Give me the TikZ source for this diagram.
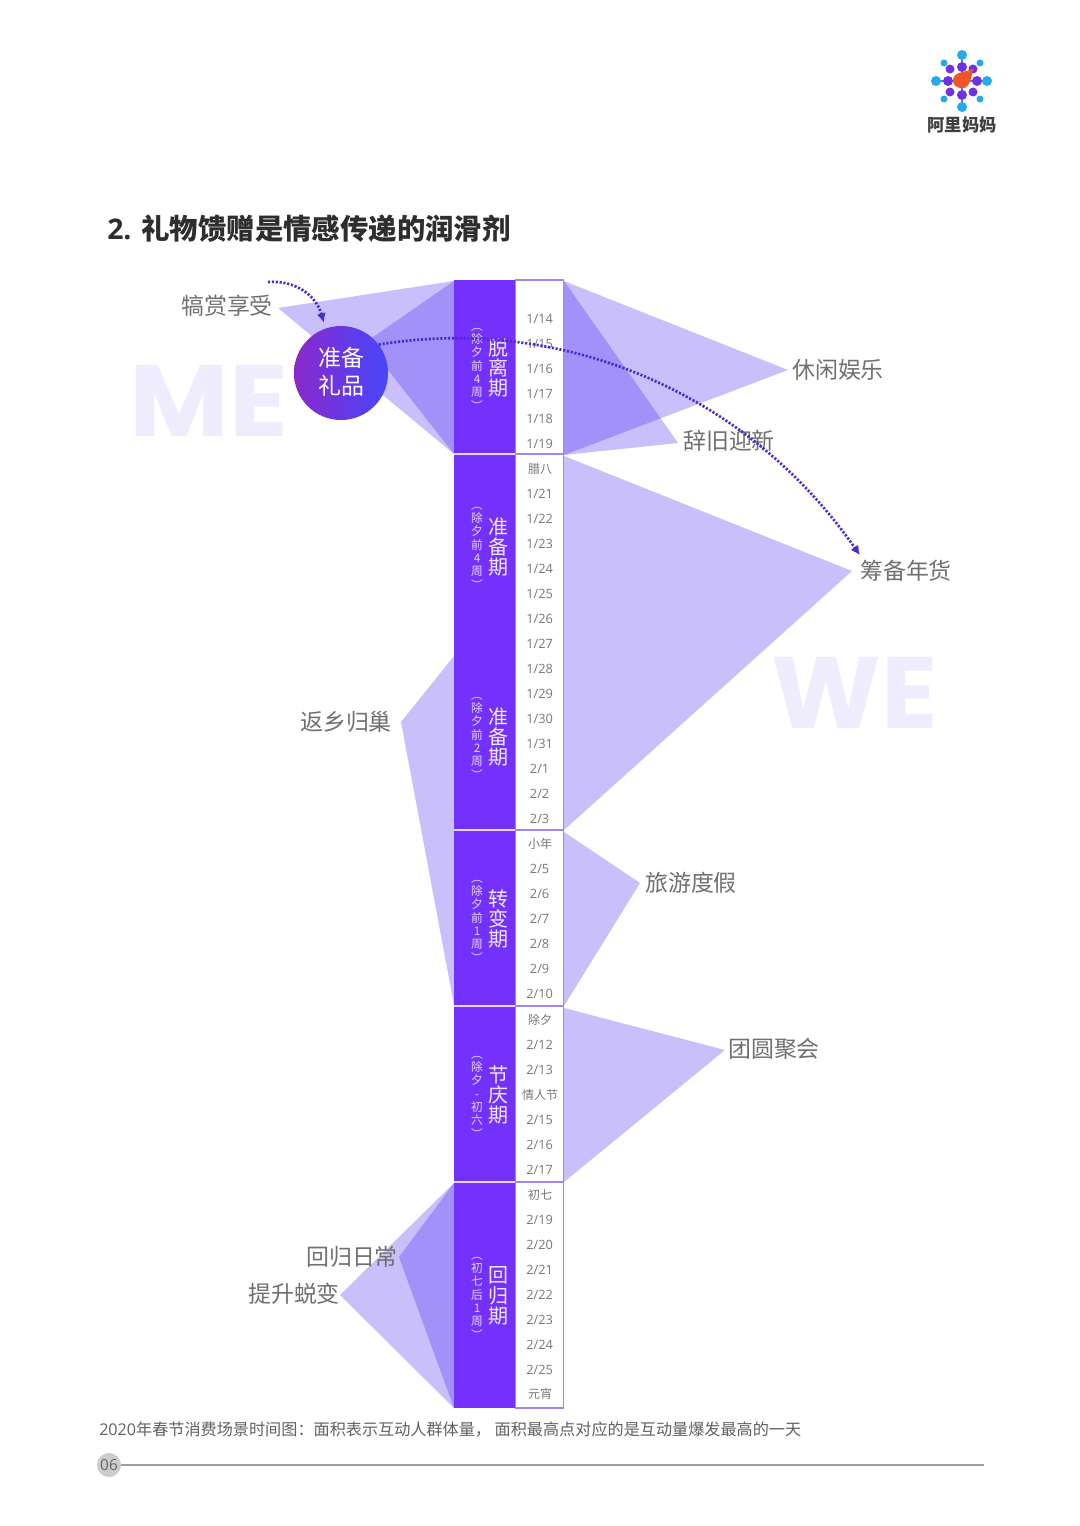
\documentclass[tikz,border=0pt]{standalone}
\usepackage{fontspec}
\setmainfont{Open Sans}
\newfontfamily\cjk{Noto Sans CJK SC}
\newfontfamily\heavy{Poppins}
\usetikzlibrary{arrows.meta,calc}
\definecolor{areac}{RGB}{62,27,241}
\definecolor{barc}{RGB}{116,49,251}
\definecolor{edgec}{RGB}{156,136,240}
\definecolor{txtc}{RGB}{112,112,112}
\definecolor{datec}{RGB}{120,120,120}
\definecolor{dotc}{RGB}{74,43,208}
\definecolor{ghost}{RGB}{239,237,253}
\definecolor{lblue}{RGB}{38,170,235}
\definecolor{lpurp}{RGB}{112,50,225}
\definecolor{gradl}{RGB}{138,40,205}
\definecolor{gradr}{RGB}{72,70,250}
\definecolor{blob}{RGB}{240,85,40}
\tikzset{
  scene/.style={font=\cjk\fontsize{17.2}{20}\selectfont,text=txtc,inner sep=0pt},
  datelab/.style={font=\fontsize{9.6}{11}\selectfont,text=datec,inner sep=0pt},
  dateh/.style={font=\cjk\fontsize{9}{11}\selectfont,text=datec,inner sep=0pt},
  phase/.style={font=\cjk\fontsize{15}{15.2}\selectfont,text=white!90!barc,align=center,inner sep=0pt},
  phasesub/.style={font=\cjk\fontsize{8.8}{10}\selectfont,text=white!80!barc,align=center,inner sep=0pt},
  dotarc/.style={draw=dotc,line width=2pt,dash pattern=on 1.6pt off 1.3pt},
  ghosttxt/.style={font=\heavy\bfseries\fontsize{76}{76}\selectfont,text=ghost,inner sep=0pt},
  sep/.style={draw=white!80!barc,line width=0.8pt},
  bl/.style={fill=lblue,draw=none},
  pu/.style={fill=lpurp,draw=none},
  area/.style={fill=areac,fill opacity=0.28,draw=none}
}
\begin{document}
\begin{tikzpicture}[x=0.75pt,y=-0.75pt]
\useasboundingbox (0,0) rectangle (1080,1526);
\fill[white] (0,0) rectangle (1080,1526);
% ghost words
\node[ghosttxt,xscale=1.07] (me) at (209,401) {ME};
\node[ghosttxt,xscale=1.03] (we) at (855,693) {WE};
% areas
\fill[area] (278,308) -- (454,281) -- (454,454) -- cycle;
\fill[area] (366,342) -- (454,281) -- (454,454) -- cycle;
\fill[area] (564,281) -- (788,370) -- (564,455) -- cycle;
\fill[area] (564,281) -- (678,443) -- (564,455) -- cycle;
\fill[area] (564,456) -- (852,571) -- (564,830) -- cycle;
\fill[area] (564,832) -- (640,883) -- (564,1006) -- cycle;
\fill[area] (564,1008) -- (725,1050) -- (564,1182) -- cycle;
\fill[area] (454,656) -- (401,722) -- (454,1005) -- cycle;
\fill[area] (454,1183) -- (399,1257) -- (454,1408) -- cycle;
\fill[area] (454,1183) -- (340,1295) -- (454,1408) -- cycle;
% column
\fill[barc] (454,280) rectangle (515,1408);
\fill[white] (516,280) rectangle (563,1408);
\draw[edgec,line width=1.1pt] (515.5,280) rectangle (563.5,1408);
\foreach \yy in {454,830,1006,1182}{
  \draw[sep] (454,\yy) -- (515,\yy);
  \draw[edgec,line width=0.8pt] (515,\yy) -- (564,\yy);
}
% dates
\foreach \aa/\bb/\yy in {1/14/319,1/15/344,1/16/369,1/17/394,1/18/419,1/19/444,1/21/494,1/22/519,1/23/544,1/24/569,1/25/594,1/26/619,1/27/644,1/28/669,1/29/694,1/30/719,1/31/744,2/1/769,2/2/794,2/3/819,2/5/869,2/6/894,2/7/919,2/8/944,2/9/969,2/10/994,2/12/1045,2/13/1070,2/15/1120,2/16/1145,2/17/1170,2/19/1220,2/20/1245,2/21/1270,2/22/1295,2/23/1320,2/24/1345,2/25/1370}{
  \node[datelab] (d\aa-\bb) at (539.6,\yy+0.2) {\aa/\bb};
}
\node[dateh] (h1) at (540,469) {腊八};
\node[dateh] (h2) at (540,844) {小年};
\node[dateh] (h3) at (540,1020) {除夕};
\node[dateh] (h4) at (540,1095) {情人节};
\node[dateh] (h5) at (540,1195) {初七};
\node[dateh] (h6) at (540,1394) {元宵};
% phases
\node[phase] (p1) at (498,368) {脱\\离\\期};
\node[phasesub] (s1) at (477,369) {︵\\除\\夕\\前\\4\\周\\︶};
\node[phase] (p2) at (498,547) {准\\备\\期};
\node[phasesub] (s2) at (477,548) {︵\\除\\夕\\前\\4\\周\\︶};
\node[phase] (p3) at (498,737) {准\\备\\期};
\node[phasesub] (s3) at (477,738) {︵\\除\\夕\\前\\2\\周\\︶};
\node[phase] (p4) at (498,919) {转\\变\\期};
\node[phasesub] (s4) at (477,921) {︵\\除\\夕\\前\\1\\周\\︶};
\node[phase] (p5) at (498,1095) {节\\庆\\期};
\node[phasesub] (s5) at (477,1097) {︵\\除\\夕\\-\\初\\六\\︶};
\node[phase] (p6) at (498,1296) {回\\归\\期};
\node[phasesub] (s6) at (477,1298) {︵\\初\\七\\后\\1\\周\\︶};
% circle
\node[circle,minimum size=94*0.75pt,inner sep=0pt,left color=gradl,right color=gradr,draw=none] (prep) at (341,373) {};
\node[font=\cjk\fontsize{17.2}{21}\selectfont,text=white,align=center,inner sep=0pt] (preptxt) at (341,372) {准备\\礼品};
% labels
\node[scene] (a1) at (227,306) {犒赏享受};
\node[scene] (a2) at (838,370) {休闲娱乐};
\node[scene] (a3) at (729,441) {辞旧迎新};
\node[scene] (a4) at (906,571) {筹备年货};
\node[scene] (a5) at (691,883) {旅游度假};
\node[scene] (a6) at (774,1049) {团圆聚会};
\node[scene] (a7) at (346,722) {返乡归巢};
\node[scene] (a8) at (352,1257) {回归日常};
\node[scene] (a9) at (294,1294) {提升蜕变};
% dotted connectors
\coordinate (start1) at (268,282);
\draw[dotarc,-{Latex[length=7pt,width=7pt]}] (start1) .. controls (295,280) and (316,295) .. ($(prep.110)+(-1,-6)$);
\draw[dotarc,-{Latex[length=7pt,width=7pt]}] (prep.37) .. controls (560,315) and (745,390) .. ($(a4.north west)+(0,-5)$);
% title
\node[anchor=west,inner sep=0pt,text=black!82,font=\fontsize{21.3}{24}\selectfont] (title) at (107,229) {\textbf{2.} {\cjk\bfseries 礼物馈赠是情感传递的润滑剂}};
% caption
\node[anchor=west,inner sep=0pt,text=black!62,font=\fontsize{12.1}{14}\selectfont] (cap) at (99,1430) {2020{\cjk 年春节消费场景时间图：面积表示互动人群体量， 面积最高点对应的是互动量爆发最高的一天}};
% footer
\node[circle,fill=black!20,minimum size=24*0.75pt,inner sep=0pt,text=black!60,font=\fontsize{11.5}{13}\selectfont] (pg) at (109,1465) {06};
\coordinate (fend) at (984,1465);
\draw[black!38,line width=0.9pt] (pg) -- (fend);
% logo
\draw[lblue!60!lpurp,line width=1.5pt] (936,81) -- (987,81) (962,55) -- (962,107);
\foreach \pt/\r in {{962,55}/5,{936,81}/5,{987,81}/5,{962,107}/5,{944,63}/3.5,{980,63}/3.5,{944,99}/3.5,{980,99}/3.5}{
  \fill[bl] (\pt) circle[radius=\r];
}
\foreach \pt/\r in {{962,67}/5,{948,81}/5,{977,81}/5,{962,95}/5,{950,69}/4.5,{973,69}/4.5,{950,92}/4.5,{973,92}/4.5}{
  \fill[pu] (\pt) circle[radius=\r];
}
\fill[blob] (953,80) .. controls (954,72) and (962,73) .. (973,69) .. controls (971,80) and (969,90) .. (960,88) .. controls (955,87) and (953,84) .. (953,80) -- cycle;
\node[inner sep=0pt,text=black!75,font=\cjk\bfseries\fontsize{13}{15}\selectfont] (logo) at (962,125) {阿里妈妈};
\end{tikzpicture}
\end{document}
